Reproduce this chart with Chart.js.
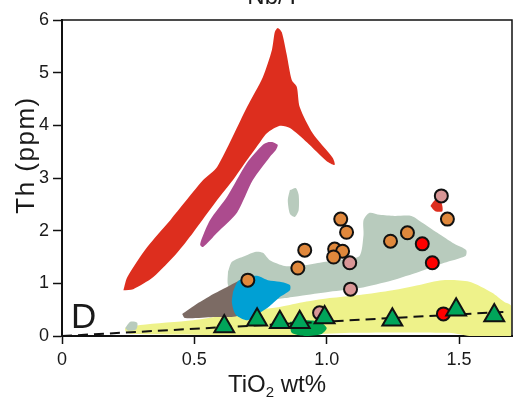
<!DOCTYPE html>
<html>
<head>
<meta charset="utf-8">
<title>Th vs TiO2</title>
<script src="https://cdn.jsdelivr.net/npm/chart.js@4.4.1/dist/chart.umd.min.js"></script>
<style>
  html, body { margin: 0; padding: 0; background: #fff; }
  #wrap { width: 518px; height: 405px; }
</style>
</head>
<body>
<div id="wrap"><canvas id="thChart" width="518" height="405"></canvas></div>
<script>
// axis ticks
const xTicks = [0, 0.5, 1.0, 1.5];
const yTicks = [0, 1, 2, 3, 4, 5, 6];

// compositional fields, outlines as [TiO2, Th]
const redField = [
  [0.232, 0.87], [0.247, 1.12], [0.322, 1.69], [0.409, 2.20], [0.533, 2.96], [0.586, 3.21],
  [0.699, 4.35], [0.759, 4.92], [0.793, 5.43], [0.804, 5.77], [0.815, 5.85], [0.830, 5.77],
  [0.849, 5.34], [0.868, 4.86], [0.887, 4.73], [0.898, 4.35], [0.947, 3.85], [1.023, 3.38],
  [1.030, 3.25], [1.000, 3.32], [0.925, 3.68], [0.861, 3.95], [0.823, 3.99], [0.774, 3.85],
  [0.748, 3.68], [0.699, 3.34], [0.646, 2.96], [0.586, 2.58], [0.495, 1.96], [0.435, 1.58],
  [0.345, 1.12], [0.269, 0.89], [0.232, 0.87]
];
const redSpot = [
  [1.392, 2.47], [1.410, 2.58], [1.433, 2.53], [1.437, 2.37], [1.410, 2.37], [1.392, 2.47]
];
const purpleField = [
  [0.797, 3.68], [0.815, 3.63], [0.808, 3.53], [0.785, 3.40], [0.721, 2.96], [0.661, 2.34],
  [0.586, 1.96], [0.533, 1.69], [0.522, 1.73], [0.529, 1.86], [0.559, 2.20], [0.623, 2.64],
  [0.699, 3.29], [0.759, 3.63], [0.778, 3.68], [0.797, 3.68]
];
const greyField = [
  [0.627, 1.22], [0.642, 1.41], [0.691, 1.52], [0.733, 1.60], [0.759, 1.58], [0.785, 1.44],
  [0.842, 1.33], [0.898, 1.33], [0.974, 1.39], [1.068, 1.46], [1.124, 1.52], [1.139, 1.92],
  [1.139, 2.20], [1.162, 2.34], [1.200, 2.30], [1.256, 2.28], [1.320, 2.28], [1.358, 2.16],
  [1.418, 1.96], [1.482, 1.75], [1.527, 1.63], [1.524, 1.52], [1.444, 1.39], [1.350, 1.22],
  [1.249, 1.06], [1.124, 0.91], [1.011, 0.84], [0.898, 0.76], [0.842, 0.72], [0.785, 0.68],
  [0.710, 0.68], [0.653, 0.78], [0.627, 0.97], [0.627, 1.22]
];
const greyStreak = [
  [0.861, 2.77], [0.883, 2.81], [0.894, 2.68], [0.894, 2.39], [0.879, 2.26], [0.861, 2.32],
  [0.853, 2.58], [0.861, 2.77]
];
const greySpeck = [
  [0.239, 0.15], [0.258, 0.27], [0.284, 0.25], [0.281, 0.13], [0.250, 0.10], [0.239, 0.15]
];
const brownField = [
  [0.454, 0.42], [0.503, 0.59], [0.559, 0.76], [0.616, 0.91], [0.672, 1.06], [0.710, 1.12],
  [0.695, 0.78], [0.672, 0.40], [0.571, 0.36], [0.465, 0.34], [0.454, 0.42]
];
const blueField = [
  [0.646, 0.84], [0.665, 1.04], [0.702, 1.12], [0.740, 1.14], [0.778, 1.06], [0.823, 1.03],
  [0.861, 0.97], [0.861, 0.87], [0.823, 0.74], [0.785, 0.57], [0.748, 0.44], [0.702, 0.30],
  [0.657, 0.40], [0.642, 0.63], [0.646, 0.84]
];
const yellowField = [
  [0.239, 0.15], [0.296, 0.21], [0.495, 0.30], [0.623, 0.40], [0.699, 0.48], [0.823, 0.55],
  [0.898, 0.63], [1.011, 0.72], [1.124, 0.78], [1.249, 0.87], [1.350, 0.97], [1.437, 1.06],
  [1.539, 1.03], [1.625, 0.82], [1.670, 0.65], [1.697, 0.57], [1.697, 0], [1.539, 0],
  [1.463, 0.06], [1.087, 0.06], [0.898, 0.02], [0.258, 0.04], [0.239, 0.10], [0.239, 0.15]
];
const greenPatch = [
  [0.861, 0.27], [0.917, 0.30], [0.974, 0.27], [1.000, 0.15], [0.981, 0.04], [0.917, 0],
  [0.868, 0.06], [0.861, 0.27]
];

// trend line
const trendLine = [[0, 0], [1.68, 0.46]];

// samples
const orangeSamples = [
  [0.702, 1.06], [1.053, 2.22], [1.075, 1.97], [0.917, 1.63], [0.891, 1.29], [1.030, 1.65],
  [1.060, 1.61], [1.026, 1.50], [1.305, 1.96], [1.241, 1.80], [1.456, 2.22]
];
const pinkSamples = [[1.087, 1.39], [1.090, 0.89], [0.973, 0.44], [1.433, 2.66]];
const redSamples = [[1.361, 1.75], [1.399, 1.39], [1.441, 0.42]];
const triangleSamples = [
  [0.613, 0.18], [0.737, 0.31], [0.823, 0.26], [0.898, 0.26], [0.992, 0.35], [1.248, 0.31],
  [1.489, 0.50], [1.633, 0.39]
];

(function () {
  'use strict';

  const FONT = '"Liberation Sans", Arial, Helvetica, sans-serif';

  function toXY(pts) {
    return pts.map(function (p) { return { x: p[0], y: p[1] }; });
  }

  function field(pts, color, order) {
    return {
      data: toXY(pts),
      showLine: true,
      fill: 'shape',
      backgroundColor: color,
      borderColor: 'rgba(0,0,0,0)',
      borderWidth: 1,
      pointRadius: 0,
      tension: 0.25,
      order: order
    };
  }

  function samples(pts, color, style, radius, order) {
    return {
      data: toXY(pts),
      showLine: false,
      pointStyle: style,
      pointRadius: radius,
      pointBackgroundColor: color,
      pointBorderColor: '#111',
      pointBorderWidth: 2,
      order: order
    };
  }

  // frame, letter and hand-placed labels
  const labelsPlugin = {
    id: 'labels',
    afterDraw: function (chart) {
      const ctx = chart.ctx;
      const a = chart.chartArea;
      ctx.save();
      ctx.strokeStyle = '#111';
      ctx.lineWidth = 1.5;
      ctx.beginPath();
      ctx.moveTo(a.left, a.top);
      ctx.lineTo(a.right, a.top);
      ctx.lineTo(a.right, a.bottom);
      ctx.stroke();

      ctx.fillStyle = '#1a1a1a';
      ctx.textBaseline = 'alphabetic';

      ctx.font = '24px ' + FONT;
      ctx.textAlign = 'center';
      ctx.fillText('Nb/Y', 274, 4);

      ctx.font = '35px ' + FONT;
      ctx.textAlign = 'left';
      ctx.fillText('D', 71, 328);

      // x axis title with subscript
      const big = '24px ' + FONT;
      const small = '15px ' + FONT;
      ctx.font = big;
      const w1 = ctx.measureText('TiO').width;
      const w3 = ctx.measureText(' wt%').width;
      ctx.font = small;
      const w2 = ctx.measureText('2').width;
      const x0 = 277 - (w1 + w2 + w3) / 2;
      const base = 392;
      ctx.font = big;
      ctx.fillText('TiO', x0, base);
      ctx.font = small;
      ctx.fillText('2', x0 + w1, base + 5);
      ctx.font = big;
      ctx.fillText(' wt%', x0 + w1 + w2, base);

      // y axis title
      ctx.translate(34, 155);
      ctx.rotate(-Math.PI / 2);
      ctx.textAlign = 'center';
      ctx.font = '26px ' + FONT;
      ctx.letterSpacing = '1.5px';
      ctx.fillText('Th (ppm)', 0, 0);
      ctx.restore();
    }
  };

  const datasets = [
    samples(redSamples, '#ff0000', 'circle', 6.5, 3),
    samples(pinkSamples, '#d99696', 'circle', 6.5, 2),
    samples(orangeSamples, '#e0883c', 'circle', 6.5, 4),
    samples(triangleSamples, '#00a55a', 'triangle', 11.5, 1),
    {
      data: toXY(trendLine),
      showLine: true,
      fill: false,
      borderColor: '#111',
      borderWidth: 2,
      borderDash: [10, 6],
      pointRadius: 0,
      order: 5
    },
    field(greenPatch, '#00a550', 6),
    field(blueField, '#00a0d4', 7),
    field(brownField, '#7c6b64', 8),
    field(purpleField, '#ac4b8e', 9),
    field(redSpot, '#dd2e1e', 10),
    field(redField, '#dd2e1e', 11),
    field(greyStreak, '#b8cbbd', 12),
    field(greySpeck, '#b8cbbd', 13),
    field(greyField, '#b8cbbd', 14),
    field(yellowField, '#eef28a', 15)
  ];

  new Chart(document.getElementById('thChart'), {
    type: 'scatter',
    data: { datasets: datasets },
    options: {
      responsive: false,
      animation: false,
      devicePixelRatio: 1,
      layout: { autoPadding: false, padding: { top: 20, right: 6, left: 0, bottom: 0 } },
      plugins: {
        legend: { display: false },
        tooltip: { enabled: false },
        title: { display: false }
      },
      scales: {
        x: {
          type: 'linear',
          min: 0,
          max: 1.7,
          afterFit: function (scale) {
            scale.height = 69;
            scale.paddingLeft = 0;
            scale.paddingRight = 0;
          },
          afterBuildTicks: function (scale) {
            scale.ticks = xTicks.map(function (v) { return { value: v }; });
          },
          border: { display: true, color: '#111', width: 2 },
          grid: { display: true, drawOnChartArea: false, drawTicks: true, tickLength: 8, tickColor: '#111', tickWidth: 1.5 },
          ticks: {
            padding: 5,
            color: '#1a1a1a',
            font: { family: FONT, size: 18 },
            maxRotation: 0,
            callback: function (v) { return v === 0 ? '0' : Number(v).toFixed(1); }
          }
        },
        y: {
          type: 'linear',
          min: 0,
          max: 6,
          afterFit: function (scale) {
            scale.width = 62;
            scale.paddingTop = 0;
            scale.paddingBottom = 0;
          },
          afterBuildTicks: function (scale) {
            scale.ticks = yTicks.map(function (v) { return { value: v }; });
          },
          border: { display: true, color: '#111', width: 2 },
          grid: { display: true, drawOnChartArea: false, drawTicks: true, tickLength: 9, tickColor: '#111', tickWidth: 1.5 },
          ticks: {
            padding: 4,
            color: '#1a1a1a',
            font: { family: FONT, size: 18 },
            callback: function (v) { return String(v); }
          }
        }
      }
    },
    plugins: [labelsPlugin]
  });
})();
</script>
</body>
</html>
